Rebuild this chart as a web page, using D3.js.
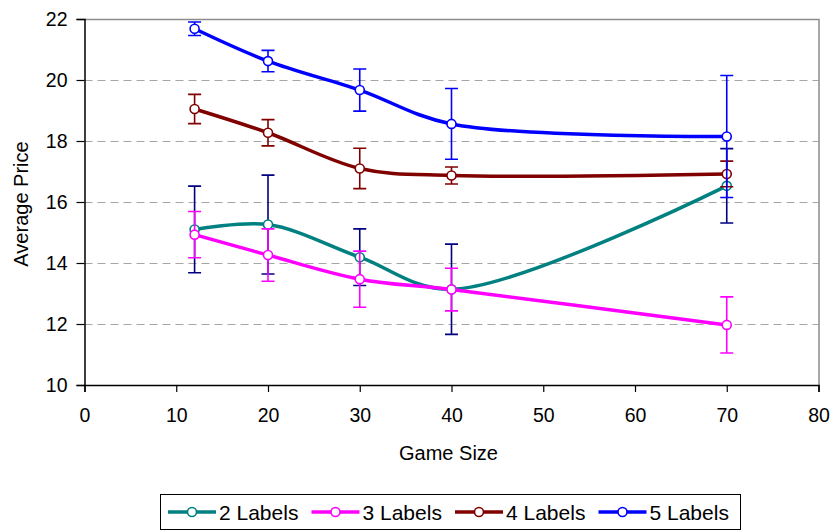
<!DOCTYPE html>
<html>
<head>
<meta charset="utf-8">
<script src="https://cdn.jsdelivr.net/npm/d3@7"></script>
<style>
  html, body { margin: 0; padding: 0; background: #fff; }
  svg { display: block; font-family: "Liberation Sans", Arial, sans-serif; }
</style>
</head>
<body>
<svg id="chart" width="833" height="531"></svg>
<script>
// Game sizes on the x axis
const gameSizes = [12, 20, 30, 40, 70];

// Average price per series and the half-width of each error bar
const labels2 = [15.10, 15.26, 14.19, 13.14, 16.53];
const err2    = [1.42, 1.62, 0.93, 1.48, 1.22];
const labels3 = [14.93, 14.26, 13.47, 13.13, 11.97];
const err3    = [0.76, 0.86, 0.92, 0.70, 0.92];
const labels4 = [19.05, 18.27, 17.10, 16.87, 16.92];
const err4    = [0.48, 0.43, 0.66, 0.28, 0.42];
const labels5 = [21.68, 20.62, 19.67, 18.56, 18.15];
const err5    = [0.22, 0.35, 0.69, 1.16, 2.00];

const seriesNames = ["2 Labels", "3 Labels", "4 Labels", "5 Labels"];
const xTicks = [0, 10, 20, 30, 40, 50, 60, 70, 80];
const yTicks = [10, 12, 14, 16, 18, 20, 22];

const series = [
  { name: seriesNames[0], values: labels2, errors: err2, color: "#008080", errColor: "#000080" },
  { name: seriesNames[1], values: labels3, errors: err3, color: "#FF00FF", errColor: "#FF00FF" },
  { name: seriesNames[2], values: labels4, errors: err4, color: "#800000", errColor: "#800000" },
  { name: seriesNames[3], values: labels5, errors: err5, color: "#0000FF", errColor: "#0000FF" }
];

const svg = d3.select("#chart");
const plotLeft = 84.5, plotRight = 818.5, plotTop = 19, plotBottom = 385;

const x = d3.scaleLinear().domain([0, 80]).range([plotLeft, plotRight]);
const y = d3.scaleLinear().domain([10, 22]).range([plotBottom, plotTop]);

// Dashed horizontal gridlines
svg.append("g")
  .selectAll("line")
  .data(yTicks.filter(v => v > 10 && v < 22))
  .join("line")
  .attr("x1", plotLeft).attr("x2", plotRight)
  .attr("y1", d => Math.round(y(d)) + 0.5).attr("y2", d => Math.round(y(d)) + 0.5)
  .attr("stroke", "#a6a6a6")
  .attr("stroke-width", 1.2)
  .attr("stroke-dasharray", "8,5");

// Plot frame: grey top and right edges
svg.append("path")
  .attr("d", `M${plotLeft},${plotTop + 0.5}H${plotRight + 0.5}V${plotBottom}`)
  .attr("fill", "none")
  .attr("stroke", "#8c8c8c")
  .attr("stroke-width", 1.5);

// Axes
const yAxis = svg.append("g")
  .attr("transform", `translate(${plotLeft},0)`)
  .call(d3.axisLeft(y).tickValues(yTicks).tickSize(8).tickPadding(9).tickFormat(d3.format("d")));
const xAxis = svg.append("g")
  .attr("transform", `translate(0,${plotBottom})`)
  .call(d3.axisBottom(x).tickValues(xTicks).tickSize(7).tickPadding(16).tickFormat(d3.format("d")));

[yAxis, xAxis].forEach(g => {
  g.select(".domain").attr("stroke", "#000").attr("stroke-width", 1.5);
  g.selectAll(".tick line").attr("stroke", "#000").attr("stroke-width", 1.2);
  g.selectAll(".tick text")
    .attr("fill", "#000")
    .style("font-family", "'Liberation Sans', Arial, sans-serif")
    .style("font-size", "19.5px");
});

// Axis titles
svg.append("text")
  .attr("x", x(40) - 3).attr("y", 460)
  .attr("text-anchor", "middle")
  .style("font-size", "20px")
  .text("Game Size");
svg.append("text")
  .attr("transform", "translate(28,204) rotate(-90)")
  .attr("text-anchor", "middle")
  .style("font-size", "20px")
  .text("Average Price");

const line = d3.line()
  .x(d => x(d.x))
  .y(d => y(d.y))
  .curve(d3.curveCatmullRom.alpha(0.5));

const capHalf = 6.5;

series.forEach(s => {
  const pts = gameSizes.map((g, i) => ({ x: g, y: s.values[i], e: s.errors[i] }));
  const g = svg.append("g");

  // Error bars
  const eb = g.append("g").attr("stroke", s.errColor).attr("stroke-width", 1.6).attr("fill", "none");
  eb.selectAll("path")
    .data(pts)
    .join("path")
    .attr("d", d => {
      const cx = x(d.x), y1 = y(d.y + d.e), y2 = y(d.y - d.e);
      return `M${cx},${y1}V${y2}M${cx - capHalf},${y1}H${cx + capHalf}M${cx - capHalf},${y2}H${cx + capHalf}`;
    });

  // Smoothed series line
  g.append("path")
    .datum(pts)
    .attr("fill", "none")
    .attr("stroke", s.color)
    .attr("stroke-width", 3.5)
    .attr("stroke-linejoin", "round")
    .attr("d", line);

  // Hollow markers
  g.selectAll("circle")
    .data(pts)
    .join("circle")
    .attr("cx", d => x(d.x))
    .attr("cy", d => y(d.y))
    .attr("r", 4.5)
    .attr("fill", "#fff")
    .attr("stroke", s.color)
    .attr("stroke-width", 1.6);
});

// Legend
const legend = svg.append("g");
legend.append("rect")
  .attr("x", 160.5).attr("y", 494.5)
  .attr("width", 580).attr("height", 35)
  .attr("fill", "#fff")
  .attr("stroke", "#000")
  .attr("stroke-width", 1);

const item = legend.selectAll("g.item")
  .data(series)
  .join("g")
  .attr("class", "item")
  .attr("transform", (d, i) => `translate(${168 + i * 143.5},0)`);
item.append("line")
  .attr("x1", 0).attr("x2", 48)
  .attr("y1", 512).attr("y2", 512)
  .attr("stroke", d => d.color)
  .attr("stroke-width", 3.5);
item.append("circle")
  .attr("cx", 24).attr("cy", 512).attr("r", 4.5)
  .attr("fill", "#fff")
  .attr("stroke", d => d.color)
  .attr("stroke-width", 1.6);
item.append("text")
  .attr("x", 51).attr("y", 519.5)
  .style("font-size", "21px")
  .text(d => d.name);
</script>
</body>
</html>
